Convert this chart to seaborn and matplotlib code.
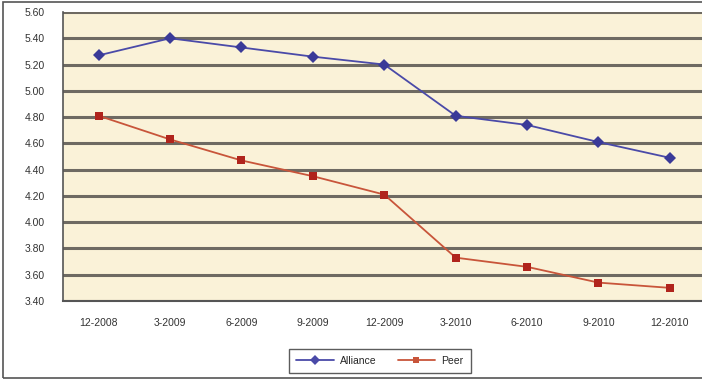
import matplotlib
matplotlib.use("Agg")
import matplotlib.pyplot as plt
import seaborn as sns
import pandas as pd
import numpy as np
from matplotlib.patches import Rectangle

categories = ["12-2008", "3-2009", "6-2009", "9-2009", "12-2009",
              "3-2010", "6-2010", "9-2010", "12-2010"]
alliance = [5.27, 5.40, 5.33, 5.26, 5.20, 4.81, 4.74, 4.61, 4.49]
peer = [4.81, 4.63, 4.47, 4.35, 4.21, 3.73, 3.66, 3.54, 3.50]
y_ticks = [3.40, 3.60, 3.80, 4.00, 4.20, 4.40, 4.60, 4.80, 5.00, 5.20, 5.40, 5.60]

df = pd.DataFrame({
    "period": categories * 2,
    "value": alliance + peer,
    "series": ["Alliance"] * len(categories) + ["Peer"] * len(categories),
})
df["pos"] = list(range(len(categories))) * 2

sns.set_theme(style="white")
plt.rcParams["font.family"] = ["Liberation Sans", "DejaVu Sans"]

fig = plt.figure(figsize=(7.02, 3.80), dpi=100)
ax = fig.add_axes([63 / 702, 1 - 301 / 380, 1 - 63 / 702, (301 - 12) / 380])
ax.set_facecolor("#FAF2D8")

palette = {"Alliance": "#4A4AA8", "Peer": "#C8553A"}
sns.lineplot(data=df, x="pos", y="value", hue="series", style="series",
             markers={"Alliance": "D", "Peer": "s"}, dashes=False,
             palette=palette, linewidth=1.3, markersize=6,
             markeredgewidth=0, ax=ax, sort=False)
for line, col in zip(ax.get_lines(), ["#3A3A98", "#B0241C"]):
    line.set_markerfacecolor(col)

ax.set_xlim(-0.5, 8.45)
ax.set_ylim(3.40, 5.60)
ax.set_yticks(y_ticks)
ax.set_yticklabels([f"{v:.2f}" for v in y_ticks])
ax.set_xticks(range(len(categories)))
ax.set_xticklabels(categories)
ax.set_xticks(np.arange(0.5, len(categories) - 0.5, 1.0), minor=True)
ax.tick_params(axis="x", which="major", length=0, pad=12, labelsize=7.5, colors="#333333")
ax.tick_params(axis="x", which="minor", length=4, width=1, color="#555555", direction="out")
ax.tick_params(axis="y", which="major", length=5, width=1, color="#555555",
               direction="out", labelsize=7.5, labelcolor="#333333", pad=8)
ax.set_xlabel("")
ax.set_ylabel("")

ax.yaxis.grid(True, color="#6E6A62", linewidth=2.2)
ax.set_axisbelow(True)
for s in ["top", "right"]:
    ax.spines[s].set_visible(False)
ax.spines["left"].set_color("#555555")
ax.spines["left"].set_linewidth(1.2)
ax.spines["bottom"].set_color("#555555")
ax.spines["bottom"].set_linewidth(1.5)

leg = ax.legend(title=None, loc="center", bbox_to_anchor=(380 / 702, 1 - 361 / 380),
                bbox_transform=fig.transFigure, ncol=2, frameon=True, fancybox=False,
                fontsize=7.5, handlelength=3.6, columnspacing=2.0, borderpad=0.7,
                handletextpad=0.6, edgecolor="#333333", markerscale=0.8)
leg.get_frame().set_linewidth(1.0)

fig.patches.append(Rectangle((3 / 702, 2 / 380), 1, 376 / 380,
                             transform=fig.transFigure, fill=False,
                             edgecolor="#555555", linewidth=1.2, zorder=-1))

fig.savefig("out.png", dpi=100, facecolor="white")
